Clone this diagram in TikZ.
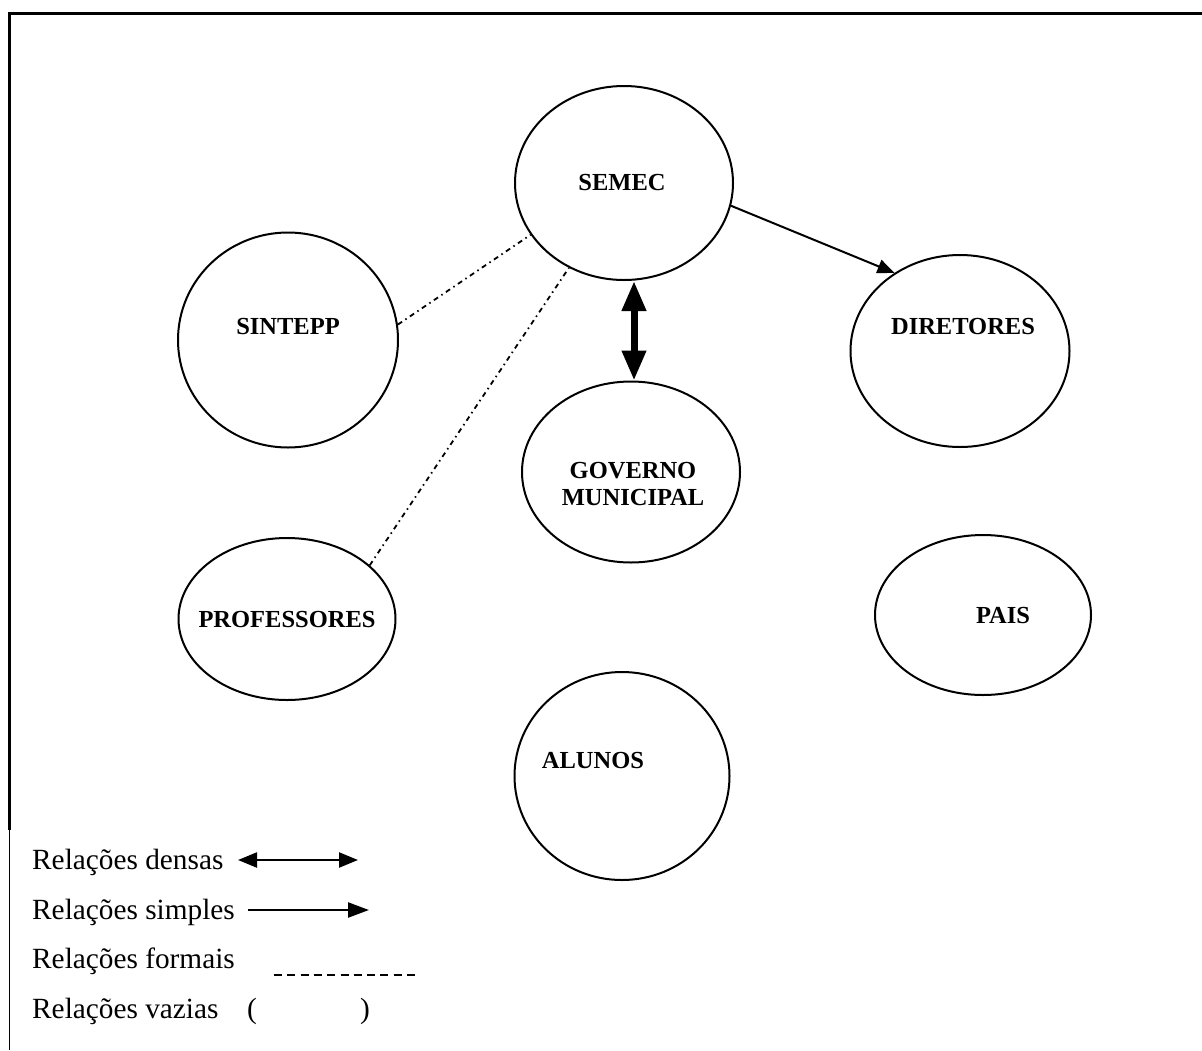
\documentclass[tikz,border=0pt]{standalone}
\usepackage{fontspec}
\setmainfont{Liberation Serif}
\usetikzlibrary{shapes.geometric,arrows.meta,calc}
\begin{document}
\begin{tikzpicture}[x=1pt,y=-1pt,
  org/.style={draw,ellipse,line width=2pt,inner sep=0pt},
  lbl/.style={font=\fontsize{24.5}{27}\selectfont\bfseries,align=center,inner sep=0pt},
  leg/.style={font=\fontsize{29.3}{30}\selectfont,anchor=base west,inner sep=0pt},
  formal/.style={line width=1.8pt,dash pattern=on 5pt off 4pt on 1.5pt off 4pt},
  simplearrow/.style={line width=2pt,-{Triangle[width=14pt,length=17pt]}},
  densearrow/.style={line width=7pt,{Triangle[width=23pt,length=30pt]}-{Triangle[width=23pt,length=30pt]}}]
\useasboundingbox (0,0) rectangle (1202,1050);
% frame
\draw[line width=2.2pt] (9.5,830) -- (9.5,13.5) -- (1202,13.5);
\draw[line width=1pt] (9.5,830) -- (9.5,1050);
% ellipses
\node[org,minimum width=218pt,minimum height=194pt] (semec) at (624,183) {};
\node[org,minimum width=220pt,minimum height=215pt] (sintepp) at (288,340) {};
\node[org,minimum width=219pt,minimum height=192pt] (dir) at (960,351) {};
\node[org,minimum width=218pt,minimum height=181pt] (gov) at (631,472) {};
\node[org,minimum width=217pt,minimum height=162pt] (prof) at (287,619) {};
\node[org,minimum width=216pt,minimum height=160pt] (pais) at (983,615) {};
\node[org,minimum width=215pt,minimum height=208pt] (alunos) at (622,776) {};
% labels
\node[lbl] (tsemec) at (622,183) {SEMEC};
\node[lbl] (tsintepp) at (288,327) {SINTEPP};
\node[lbl] (tdir) at (963,327) {DIRETORES};
\node[lbl] (tgov) at (633,484) {GOVERNO\\MUNICIPAL};
\node[lbl] (tprof) at (287,619) {PROFESSORES};
\node[lbl] (tpais) at (1003,615) {PAIS};
\node[lbl] (talunos) at (593,760) {ALUNOS};
% connectors
\draw[simplearrow] (semec.-12.5) -- (dir.130);
\draw[densearrow] ([xshift=3pt]gov.north |- semec.south) -- ([xshift=3pt]gov.north);
\draw[formal] (sintepp.8.8) -- (semec.-151.3);
\draw[formal] (prof.33) -- (semec.-123.4);
% legend
\node[leg] (l1) at (32,869) {Relações densas};
\node[leg] (l2) at (32,919) {Relações simples};
\node[leg] (l3) at (32,968) {Relações formais};
\node[leg] (l4) at (32,1018) {Relações vazias};
\node[leg] (p1) at (247,1018) {(};
\node[leg] (p2) at (360,1018) {)};
\coordinate (d1) at (238,860);
\coordinate (d2) at (358,860);
\coordinate (s1) at (248,910);
\coordinate (s2) at (369,910);
\coordinate (f1) at (274,975);
\coordinate (f2) at (420,975);
\draw[line width=2.3pt,{Triangle[width=15pt,length=19pt]}-{Triangle[width=15pt,length=19pt]}] (d1) -- (d2);
\draw[line width=2.3pt,-{Triangle[width=15pt,length=21pt]}] (s1) -- (s2);
\draw[line width=1.5pt,dash pattern=on 8pt off 5.3pt] (f1) -- (f2);
\end{tikzpicture}
\end{document}
